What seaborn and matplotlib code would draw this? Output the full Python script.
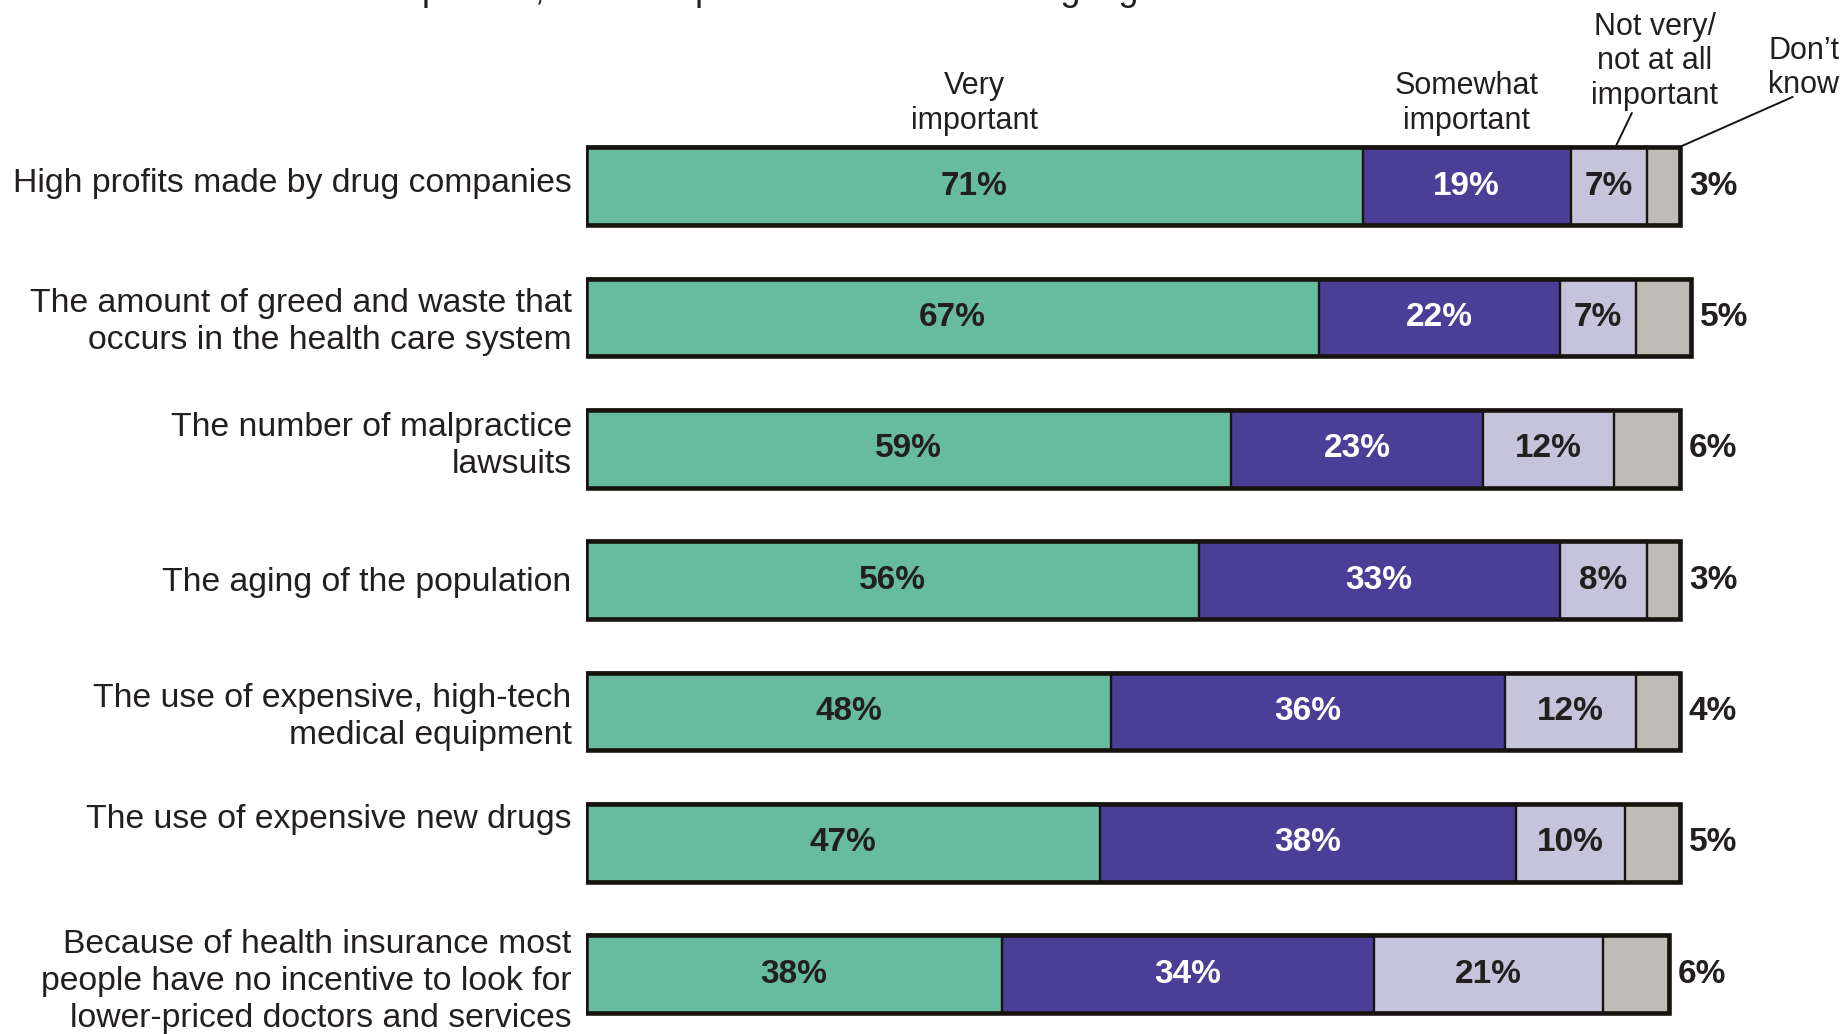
import numpy as np
import pandas as pd
import matplotlib
matplotlib.use("Agg")
import matplotlib.pyplot as plt
import seaborn as sns

# Survey items and response shares (%)
categories = [
    "High profits made by drug companies",
    "The amount of greed and waste that\noccurs in the health care system",
    "The number of malpractice\nlawsuits",
    "The aging of the population",
    "The use of expensive, high-tech\nmedical equipment",
    "The use of expensive new drugs",
    "Because of health insurance most\npeople have no incentive to look for\nlower-priced doctors and services",
]
very_important = [71, 67, 59, 56, 48, 47, 38]
somewhat_important = [19, 22, 23, 33, 36, 38, 34]
not_important = [7, 7, 12, 8, 12, 10, 21]
dont_know = [3, 5, 6, 3, 4, 5, 6]

series_names = ["Very\nimportant", "Somewhat\nimportant",
                "Not very/\nnot at all\nimportant", "Don\u2019t\nknow"]
title_line = "important, or not important factor in causing high health care costs?"

# Styling
GREEN = "#67BC9F"
PURPLE = "#4B3E96"
LAVENDER = "#C6C4DB"
GRAY = "#BFBCB6"
EDGE = "#17130F"
TEXT = "#231F20"

sns.set_theme(style="white")
plt.rcParams["font.family"] = ["Liberation Sans", "DejaVu Sans"]

df = pd.DataFrame({
    "item": categories,
    "very": very_important,
    "somewhat": somewhat_important,
    "notvery": not_important,
    "dk": dont_know,
})
df["c1"] = df["very"]
df["c2"] = df["c1"] + df["somewhat"]
df["c3"] = df["c2"] + df["notvery"]
df["c4"] = df["c3"] + df["dk"]

fig = plt.figure(figsize=(18.49, 10.34), dpi=100)
XMAX = 120
ax = fig.add_axes([0.3169, 0.0008, 0.5917 * XMAX / 100, 0.8953])

BAR_W = 0.59
# Stacked segments: draw cumulative totals from longest to shortest
for col, color in [("c4", GRAY), ("c3", LAVENDER), ("c2", PURPLE), ("c1", GREEN)]:
    sns.barplot(data=df, x=col, y="item", order=categories, orient="h",
                color=color, saturation=1, width=BAR_W, edgecolor=EDGE,
                linewidth=1.7, errorbar=None, ax=ax)

# Heavy outer frame around each bar
n_before = len(ax.patches)
sns.barplot(data=df, x="c4", y="item", order=categories, orient="h",
            color=GRAY, saturation=1, width=BAR_W, errorbar=None, ax=ax)
for p in ax.patches[n_before:]:
    p.set_facecolor("none")
    p.set_edgecolor(EDGE)
    p.set_linewidth(3.3)
    p.set_zorder(5)

ax.set_xlim(0, XMAX)
ax.set_ylim(6.45, -0.6)
ax.set(xlabel="", ylabel="", xticks=[], yticks=[])
for s in ax.spines.values():
    s.set_visible(False)

VAL_FS = 24
for i in range(len(categories)):
    segs = [
        (0, df["c1"][i], very_important[i], TEXT),
        (df["c1"][i], df["c2"][i], somewhat_important[i], "white"),
        (df["c2"][i], df["c3"][i], not_important[i], TEXT),
    ]
    for lo, hi, v, tc in segs:
        ax.text((lo + hi) / 2, i, f"{v}%", ha="center", va="center",
                fontsize=VAL_FS, fontweight="bold", color=tc, zorder=6)
    ax.text(df["c4"][i] + 0.8, i, f"{dont_know[i]}%", ha="left", va="center",
            fontsize=VAL_FS, fontweight="bold", color=TEXT, clip_on=False)

# Category labels to the left of the bars
label_dy = [-0.02, 0.035, -0.02, 0.015, 0.045, -0.175, 0.055]
for i, lab in enumerate(categories):
    ax.text(-1.3, i + label_dy[i], lab, ha="right", va="center",
            fontsize=24.3, color=TEXT, linespacing=1.25, clip_on=False)

# Series headers above the first bar
HDR_FS = 22
hdr = dict(fontsize=HDR_FS, color=TEXT, linespacing=1.2, clip_on=False,
           ha="center", va="bottom")
ax.text(df["c1"][0] / 2, -0.385, series_names[0], **hdr)
ax.text((df["c1"][0] + df["c2"][0]) / 2, -0.385, series_names[1], **hdr)
ax.text(97.7, -0.575, series_names[2], **hdr)
ax.text(111.3, -0.655, series_names[3], **hdr)
ax.plot([95.6, 94.1], [-0.558, -0.298], color=EDGE, lw=1.4, clip_on=False)
ax.plot([110.3, 100.0], [-0.68, -0.30], color=EDGE, lw=1.4, clip_on=False)

# Title line running off the top edge
fig.text(923 / 1849, 1.0, title_line, ha="center", va="baseline",
         fontsize=26, color=TEXT)

fig.savefig("out.png", dpi=100, facecolor="white")
